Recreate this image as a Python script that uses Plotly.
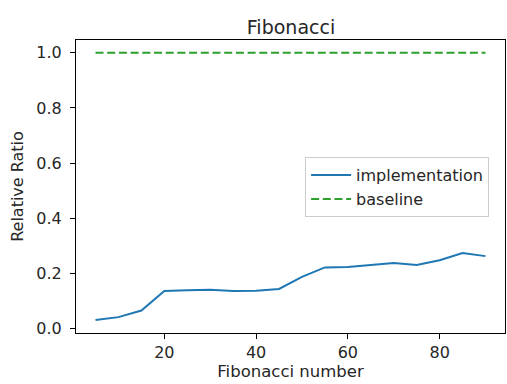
import plotly.graph_objects as go

n_values = [5, 10, 15, 20, 25, 30, 35, 40, 45, 50, 55, 60, 65, 70, 75, 80, 85, 90]
implementation = [0.032, 0.042, 0.066, 0.137, 0.139, 0.141, 0.137, 0.138, 0.144, 0.188,
                  0.222, 0.224, 0.231, 0.238, 0.231, 0.248, 0.274, 0.263]
baseline = [1.0] * len(n_values)
x_ticks = [20, 40, 60, 80]
y_ticks = [0.0, 0.2, 0.4, 0.6, 0.8, 1.0]

font = "DejaVu Sans"
txt = "#262626"
fig = go.Figure()
fig.add_trace(go.Scatter(x=n_values, y=implementation, mode="lines", name="implementation",
                         line=dict(color="#1f77b4", width=2)))
fig.add_trace(go.Scatter(x=n_values, y=baseline, mode="lines", name="baseline",
                         line=dict(color="#2ca02c", width=2, dash="8px,3.7px")))

axis_common = dict(showline=True, linecolor="black", linewidth=1, mirror=True,
                   ticks="outside", ticklen=5, tickcolor="black", showgrid=False,
                   zeroline=False, tickfont=dict(family=font, size=16, color=txt))
fig.update_layout(
    width=507, height=384,
    margin=dict(l=76, r=2, t=40, b=51),
    paper_bgcolor="white", plot_bgcolor="white",
    title=dict(text="Fibonacci", x=0.574, xanchor="center", y=0.928, yanchor="middle",
               font=dict(family=font, size=19, color=txt)),
    xaxis=dict(range=[0.75, 94.25], tickvals=x_ticks,
               title=dict(text="Fibonacci number", font=dict(family=font, size=16.5, color=txt), standoff=2),
               **axis_common),
    yaxis=dict(range=[-0.0155, 1.046], tickvals=y_ticks, tickformat=".1f", ticklabelstandoff=5,
               title=dict(text="Relative Ratio", font=dict(family=font, size=16, color=txt), standoff=8),
               **axis_common),
    legend=dict(x=0.534, y=0.6, xanchor="left", yanchor="top", itemwidth=40,
                bgcolor="rgba(255,255,255,0.9)", bordercolor="#cccccc", borderwidth=1,
                font=dict(family=font, size=16, color=txt), tracegroupgap=0),
    showlegend=True,
)
fig.write_html("out.html")
